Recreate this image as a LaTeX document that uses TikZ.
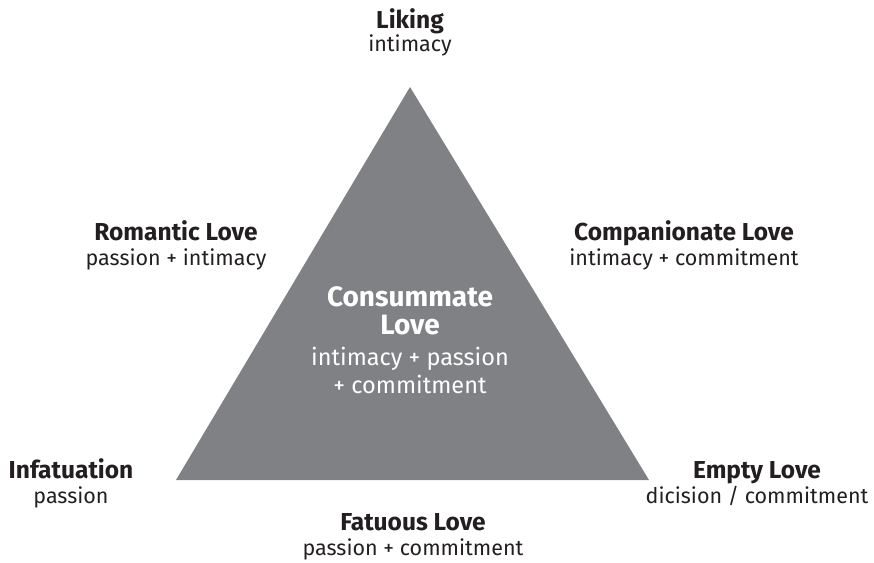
\documentclass[tikz,border=0pt]{standalone}
\usepackage{fontspec}
\setmainfont{Fira Sans}
\definecolor{triGray}{RGB}{128,129,133}
\definecolor{textDark}{RGB}{35,31,32}
\tikzset{every picture/.style={line width=0.75pt}}
\tikzset{
  title/.style={anchor=center, inner sep=0.75pt, text height=0.7em, text depth=0.2em, text=textDark, font=\fontsize{24.5}{26}\selectfont\bfseries},
  sub/.style={anchor=center, inner sep=0.75pt, text height=0.7em, text depth=0.2em, text=textDark, font=\fontsize{21.5}{24}\selectfont},
}

\begin{document}
\begin{tikzpicture}[x=1pt,y=1pt,yscale=-1,xscale=1]
    \useasboundingbox (0,0) rectangle (874,562);

    %Shape: Triangle [id:tri]
    \coordinate (apex) at (410,87);
    \coordinate (baseL) at (176,480);
    \coordinate (baseR) at (649,480);
    \fill [triGray] (apex) -- (baseR) -- (baseL) -- cycle;

    % Text Node
    \node [title] (liking) at (410,26) {Liking};
    \node [sub] (likingSub) at (410,49) {intimacy};
    % Text Node
    \node [title] (romantic) at (176,238) {Romantic Love};
    \node [sub] (romanticSub) at (176,263) {passion + intimacy};
    % Text Node
    \node [title] (companion) at (684,238) {Companionate Love};
    \node [sub] (companionSub) at (684,263) {intimacy + commitment};
    % Text Node
    \node [title, text=white, font=\fontsize{28}{30}\selectfont\bfseries] (consum) at (410,304) {Consummate};
    \node [title, text=white, font=\fontsize{28}{30}\selectfont\bfseries] (consumLove) at (410,332) {Love};
    \node [sub, text=white, font=\fontsize{23.5}{26}\selectfont] (consumSub) at (410,363) {intimacy + passion};
    \node [sub, text=white, font=\fontsize{23.5}{26}\selectfont] (consumSubB) at (410,391) {+ commitment};
    % Text Node
    \node [title] (infat) at (71,476) {Infatuation};
    \node [sub] (infatSub) at (71,501) {passion};
    % Text Node
    \node [title] (empty) at (757,476) {Empty Love};
    \node [sub] (emptySub) at (757,501) {dicision / commitment};
    % Text Node
    \node [title] (fatuous) at (413,528) {Fatuous Love};
    \node [sub] (fatuousSub) at (413,553) {passion + commitment};

\end{tikzpicture}
\end{document}
